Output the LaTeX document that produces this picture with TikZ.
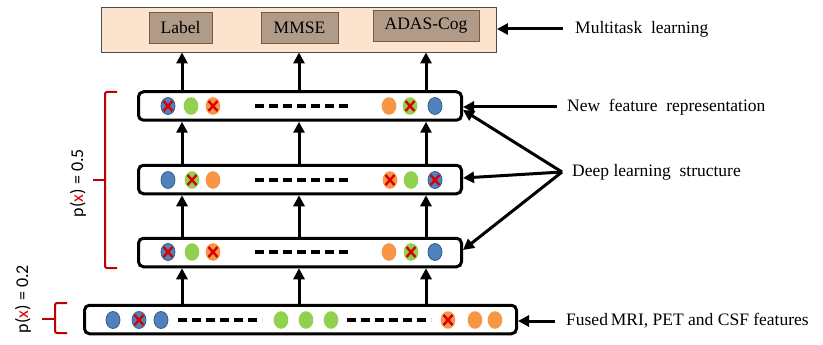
\documentclass[tikz,border=0pt]{standalone}
\usepackage{fontspec}
\setmainfont{Liberation Serif}
\newfontfamily\sansfnt{Carlito}
\usetikzlibrary{arrows.meta,calc}
\definecolor{peach}{HTML}{FBE3CD}
\definecolor{boxbrown}{HTML}{B09A88}
\definecolor{boxedge}{HTML}{7A5A42}
\definecolor{dblue}{HTML}{4F81BD}
\definecolor{dbluedk}{HTML}{385D8A}
\definecolor{dgreen}{HTML}{92D050}
\definecolor{dorange}{HTML}{F79646}
\definecolor{xred}{HTML}{D80000}
\definecolor{bred}{HTML}{C00000}
\newcommand\dotB[2]{\filldraw[fill=dblue,draw=dbluedk,line width=0.8pt] (#1,#2) ellipse [x radius=7pt,y radius=8.5pt];}
\newcommand\dotG[2]{\fill[dgreen] (#1,#2) ellipse [x radius=7.3pt,y radius=8.8pt];}
\newcommand\dotO[2]{\fill[dorange] (#1,#2) ellipse [x radius=7.3pt,y radius=8.8pt];}
\newcommand\xmk[2]{\draw[xred,line width=2.4pt,shift={(#1,#2)}] (-4.5,-5) -- (4.5,5) (-4.5,5) -- (4.5,-5);}
\begin{document}
\begin{tikzpicture}[x=1pt,y=-1pt,
  font=\fontsize{17.5}{20}\selectfont,
  topbox/.style={draw=black!70,line width=0.9pt,fill=peach},
  outbox/.style={draw=boxedge,line width=0.9pt,fill=boxbrown,minimum height=31pt,inner sep=0pt},
  layer/.style={draw=black,line width=3pt,rounded corners=5pt,fill=white,minimum height=28.5pt},
  arr/.style={line width=3pt,-{Triangle[length=11pt,width=11pt]}},
  dashline/.style={line width=3.2pt,dash pattern=on 9pt off 5pt},
  brace/.style={bred,line width=2pt,rounded corners=2pt},
  lbl/.style={anchor=west,inner sep=0pt},
  plabel/.style={rotate=90,inner sep=0pt,font=\sansfnt\fontsize{18}{20}\selectfont}]
\useasboundingbox (0,0) rectangle (823,345);

% top output box
\node[topbox,minimum width=395pt,minimum height=45pt] (top) at (299,29.5) {};
\node[outbox,minimum width=63pt] (lab) at (180.5,27.5) {Label};
\node[outbox,minimum width=77pt] (mmse) at (299.5,27.5) {MMSE};
\node[outbox,minimum width=106pt] (adas) at (426,26) {ADAS-Cog};

% layers
\node[layer,minimum width=323pt] (L1) at (300,106) {};
\node[layer,minimum width=323pt] (L2) at (300,179.5) {};
\node[layer,minimum width=323pt] (L3) at (300,252.5) {};
\node[layer,minimum width=432pt] (L0) at (300.5,319.5) {};

% vertical arrows
\coordinate (c1) at (182,0);
\coordinate (c2) at (299,0);
\coordinate (c3) at (426,0);
\foreach \c in {c1,c2,c3}{
  \draw[arr] (L0.north -| \c) -- (L3.south -| \c);
  \draw[arr] (L3.north -| \c) -- (L2.south -| \c);
  \draw[arr] (L2.north -| \c) -- (L1.south -| \c);
  \draw[arr] (L1.north -| \c) -- (top.south -| \c);
}

% layer 1 contents
\dotB{168}{106}\xmk{168}{106}
\dotG{191}{106}
\dotO{213}{106}\xmk{213}{106}
\draw[dashline] (255,106) -- (350,106);
\dotO{389}{106}
\dotG{410}{106}\xmk{410}{106}
\dotB{435}{106}

% layer 2 contents
\dotB{168}{180}
\dotG{192}{180}\xmk{192}{180}
\dotO{213}{180}
\draw[dashline] (255,180) -- (350,180);
\dotO{390}{180}\xmk{390}{180}
\dotG{411}{180}
\dotB{435}{180}\xmk{435}{180}

% layer 3 contents
\dotB{168}{252}\xmk{168}{252}
\dotG{192}{252}
\dotO{213}{252}\xmk{213}{252}
\draw[dashline] (255,252) -- (350,252);
\dotO{389}{252}
\dotG{411}{252}\xmk{411}{252}
\dotB{435}{252}

% bottom layer contents
\dotB{113}{320}
\dotB{139}{320}\xmk{139}{320}
\dotB{161}{320}
\draw[dashline] (178,320) -- (262,320);
\dotG{281}{320}
\dotG{306}{320}
\dotG{331}{320}
\draw[dashline] (347,320) -- (431,320);
\dotO{448}{320}\xmk{448}{320}
\dotO{475}{320}
\dotO{495}{320}

% right labels
\node[lbl] (mt) at (575,29) {Multitask\ \ learning};
\draw[arr] ([xshift=-12pt]mt.west) -- (top.east |- mt.west);
\node[lbl] (nf) at (567,107) {New\ \ feature\ \ representation};
\draw[arr] ([xshift=-10pt]nf.west) -- (L1.east |- nf.west);
\node[lbl] (dl) at (572,172) {Deep learning\ \ structure};
\coordinate (hub) at ([xshift=-10pt]dl.west);
\draw[arr] (hub) -- ([yshift=-4pt]L1.east);
\draw[arr] (hub) -- ([yshift=1.5pt]L2.east);
\draw[arr] (hub) -- ([yshift=2.5pt]L3.east);
\node[lbl] (fu) at (566,321) {Fused\,MRI, PET and CSF features};
\draw[arr] ([xshift=-11pt]fu.west) -- (L0.east |- fu.west);

% left braces
\draw[brace] (117,92) -- (105,92) -- (105,268) -- (117,268);
\draw[brace] (93,180) -- (105,180);
\draw[brace] (67,303) -- (55,303) -- (55,333) -- (67,333);
\draw[brace] (42,319) -- (55,319);
\node[plabel] (p5) at (78,183) {p({\color{xred}x}) = 0.5};
\node[plabel] (p2) at (23,299) {p({\color{xred}x}) = 0.2};
\end{tikzpicture}
\end{document}
